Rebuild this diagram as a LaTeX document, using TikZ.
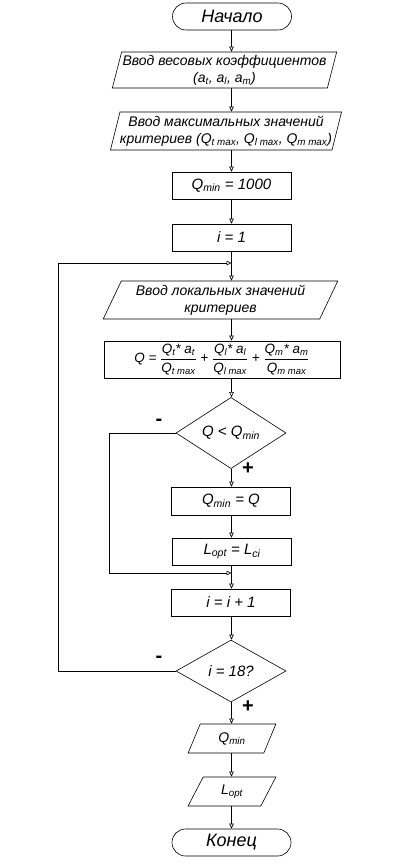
\documentclass[tikz,border=0pt]{standalone}
\usepackage{fontspec}
\usepackage{amsmath}
\setmainfont{Liberation Sans}
\usetikzlibrary{shapes.geometric,arrows.meta}
\newcommand{\sbs}[1]{\textsubscript{#1}}
\begin{document}
\begin{tikzpicture}[x=1pt,y=-1pt,line width=0.6pt,
  every node/.style={font=\itshape\fontsize{14}{17}\selectfont},
  term/.style={draw,rectangle,rounded corners=13.5pt,minimum width=119pt,minimum height=27pt,inner sep=0pt,font=\itshape\fontsize{18}{20}\selectfont},
  proc/.style={draw,rectangle,minimum width=119pt,minimum height=27pt,inner sep=0pt,font=\itshape\fontsize{15}{18}\selectfont},
  io/.style={draw,trapezium,trapezium stretches=true,inner sep=0pt,align=center},
  dec/.style={draw,diamond,minimum width=110pt,minimum height=62pt,inner sep=0pt,font=\itshape\fontsize{15}{18}\selectfont},
  sign/.style={font=\upshape\bfseries\fontsize{20}{20}\selectfont,inner sep=0pt},
  arr/.style={-{Triangle[open,length=5pt,width=4.5pt]}}]
\useasboundingbox (0,0) rectangle (402,864);
\coordinate (cx) at (231.5,0);
\node[term] (start) at (232,16.5) {Начало};
\node[io,minimum width=225pt,minimum height=36pt,trapezium left angle=73,trapezium right angle=107] (p1) at (224.5,70)
  {Ввод весовых коэффициентов\\(a\sbs{t}, a\sbs{l}, a\sbs{m})};
\node[io,minimum width=226pt,minimum height=38pt,trapezium left angle=72.5,trapezium right angle=107.5] (p2) at (226,131)
  {Ввод максимальных значений\\критериев (Q\sbs{t max}, Q\sbs{l max}, Q\sbs{m max})};
\node[proc] (q1) at (231.5,185.5) {Q\sbs{min} = 1000};
\node[proc] (i1) at (231.5,237.5) {i = 1};
\node[io,minimum width=235pt,minimum height=38pt,trapezium left angle=63,trapezium right angle=117] (p3) at (220.5,300)
  {Ввод локальных значений\\критериев};
\node[draw,rectangle,minimum width=236pt,minimum height=37pt,inner sep=0pt,font=\itshape\fontsize{13.5}{15}\selectfont] (f) at (222,359.5)
  {Q = $\dfrac{\text{Q\sbs{t}* a\sbs{t}}}{\text{Q\sbs{t max}}}$ + $\dfrac{\text{Q\sbs{l}* a\sbs{l}}}{\text{Q\sbs{l max}}}$ + $\dfrac{\text{Q\sbs{m}* a\sbs{m}}}{\text{Q\sbs{m max}}}$};
\node[dec] (d1) at (231,433) {Q < Q\sbs{min}};
\node[proc,minimum height=28pt] (q2) at (231,501) {Q\sbs{min} = Q};
\node[proc] (l1) at (232,551.5) {L\sbs{opt} = L\sbs{ci}};
\node[proc] (i2) at (231,602.5) {i = i + 1};
\node[dec] (d2) at (231,671) {i = 18?};
\node[io,minimum width=88pt,minimum height=29pt,trapezium left angle=67.5,trapezium right angle=112.5] (p4) at (232,738.5) {Q\sbs{min}};
\node[io,minimum width=88pt,minimum height=29pt,trapezium left angle=67.5,trapezium right angle=112.5] (p5) at (232,791.5) {L\sbs{opt}};
\node[term] (fin) at (231.5,842.5) {Конец};
\node[sign] (m1) at (159,422) {-};
\node[sign] (s1) at (248,469) {+};
\node[sign] (m2) at (159,659) {-};
\node[sign] (s2) at (248,707) {+};
\coordinate (lc) at (58,263);
\coordinate (lj) at (231.5,263);
\coordinate (jc) at (109,573);
\coordinate (jj) at (231.5,573);
\draw[arr] (start.south -| cx) -- (p1.north -| cx);
\draw[arr] (p1.south -| cx) -- (p2.north -| cx);
\draw[arr] (p2.south -| cx) -- (q1.north -| cx);
\draw[arr] (q1.south -| cx) -- (i1.north -| cx);
\draw[arr] (i1.south -| cx) -- (p3.north -| cx);
\draw[arr] (p3.south -| cx) -- (f.north -| cx);
\draw[arr] (f.south -| cx) -- (d1.north -| cx);
\draw[arr] (d1.south -| cx) -- (q2.north -| cx);
\draw[arr] (q2.south -| cx) -- (l1.north -| cx);
\draw[arr] (l1.south -| cx) -- (i2.north -| cx);
\draw[arr] (i2.south -| cx) -- (d2.north -| cx);
\draw[arr] (d2.south -| cx) -- (p4.north -| cx);
\draw[arr] (p4.south -| cx) -- (p5.north -| cx);
\draw[arr] (p5.south -| cx) -- (fin.north -| cx);
\draw[arr] (d1.west) -| (jc) -- (jj);
\draw[arr] (d2.west) -| (lc) -- (lj);
\end{tikzpicture}
\end{document}
